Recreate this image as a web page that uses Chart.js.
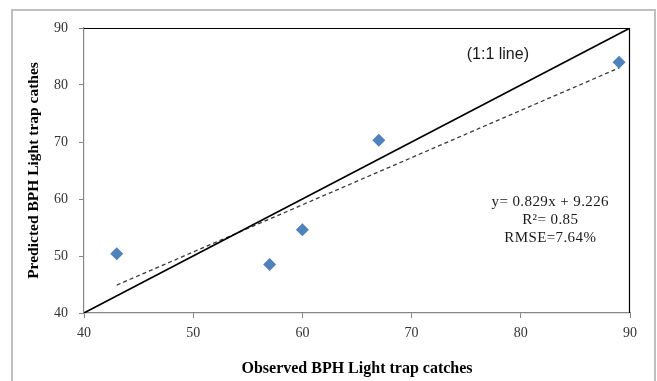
<!DOCTYPE html>
<html>
<head>
<meta charset="utf-8">
<script src="https://cdn.jsdelivr.net/npm/chart.js@4.4.1/dist/chart.umd.min.js"></script>
<style>
  body { margin: 0; background: #fff; }
  #wrap { position: relative; width: 657px; height: 381px; overflow: hidden; }
  #frame { position: absolute; left: 11px; top: 9px; width: 641px; height: 400px; border: 2px solid #bfbfbf; }
  #chart { position: absolute; left: 0; top: 0; }
</style>
</head>
<body>
<div id="wrap">
  <div id="frame"></div>
  <canvas id="chart" width="657" height="381"></canvas>
</div>
<script>
// observed vs predicted BPH light trap catches
const observed = [43, 57, 60, 67, 89];
const predicted = [50.4, 48.5, 54.6, 70.3, 84.0];

// linear fit y = 0.829x + 9.226, drawn between first and last observation
const trendX = [43, 89];
const trendY = [44.9, 83.0];

// 1:1 reference line
const refX = [40, 90];
const refY = [40, 90];

const axisTicks = [40, 50, 60, 70, 80, 90];
const equationLines = ["y= 0.829x + 9.226", "R\u00b2= 0.85", "RMSE=7.64%"];

const serif = "'Liberation Serif', 'Times New Roman', serif";

const toPoints = (xs, ys) => xs.map((x, i) => ({ x, y: ys[i] }));

// top/right border of plot area plus the text notes
const notesPlugin = {
  id: "notes",
  afterDraw(chart) {
    const { ctx, chartArea, scales } = chart;
    ctx.save();
    ctx.strokeStyle = "#000";
    ctx.lineWidth = 1.2;
    ctx.beginPath();
    ctx.moveTo(chartArea.left, chartArea.top + 0.5);
    ctx.lineTo(chartArea.right - 0.5, chartArea.top + 0.5);
    ctx.lineTo(chartArea.right - 0.5, chartArea.bottom);
    ctx.stroke();

    ctx.fillStyle = "#1a1a1a";
    ctx.textAlign = "center";
    ctx.textBaseline = "middle";
    ctx.font = "16px 'Liberation Sans', Arial, sans-serif";
    ctx.fillText("(1:1 line)", scales.x.getPixelForValue(77.9), scales.y.getPixelForValue(85.3));

    ctx.font = "15px " + serif;
    ctx.letterSpacing = "0.4px";
    const cx = scales.x.getPixelForValue(82.7);
    equationLines.forEach((line, i) => {
      ctx.fillText(line, cx, 202 + i * 18);
    });
    ctx.restore();
  }
};

new Chart(document.getElementById("chart"), {
  type: "scatter",
  data: {
    datasets: [
      {
        label: "Observed vs predicted",
        data: toPoints(observed, predicted),
        pointStyle: "rectRot",
        pointRadius: 6.5,
        pointBackgroundColor: "#4f81bd",
        pointBorderWidth: 0,
        order: 0
      },
      {
        label: "Trend",
        type: "line",
        data: toPoints(trendX, trendY),
        borderColor: "#3a3a3a",
        borderWidth: 1.3,
        borderDash: [4, 3],
        pointRadius: 0,
        fill: false,
        order: 2
      },
      {
        label: "1:1",
        type: "line",
        data: toPoints(refX, refY),
        borderColor: "#000",
        borderWidth: 1.6,
        pointRadius: 0,
        fill: false,
        order: 1
      }
    ]
  },
  options: {
    responsive: false,
    devicePixelRatio: 1,
    animation: false,
    layout: { padding: { left: 12, top: 28, right: 27, bottom: 0 } },
    plugins: { legend: { display: false }, tooltip: { enabled: false } },
    scales: {
      x: {
        type: "linear",
        min: 40,
        max: 90,
        afterBuildTicks: (scale) => { scale.ticks = axisTicks.map((v) => ({ value: v })); },
        afterFit: (scale) => { scale.height = 68; },
        grid: { drawOnChartArea: false, drawTicks: true, tickLength: 5, color: "#868686" },
        border: { color: "#868686", width: 1.2 },
        ticks: { color: "#333", padding: 7, font: { family: serif, size: 14 } },
        title: {
          display: true,
          text: "Observed BPH Light trap catches",
          color: "#000",
          padding: { top: 0, bottom: 3 },
          font: { family: serif, size: 16, weight: "bold" }
        }
      },
      y: {
        type: "linear",
        min: 40,
        max: 90,
        afterBuildTicks: (scale) => { scale.ticks = axisTicks.map((v) => ({ value: v })); },
        afterFit: (scale) => { scale.width = 72; },
        grid: { drawOnChartArea: false, drawTicks: true, tickLength: 5, color: "#868686" },
        border: { color: "#868686", width: 1.2 },
        ticks: { color: "#333", padding: 11, font: { family: serif, size: 14 } },
        title: {
          display: true,
          text: "Predicted BPH Light trap cathes",
          color: "#000",
          padding: { top: 13, bottom: 0 },
          font: { family: serif, size: 15.5, weight: "bold" }
        }
      }
    }
  },
  plugins: [notesPlugin]
});
</script>
</body>
</html>
